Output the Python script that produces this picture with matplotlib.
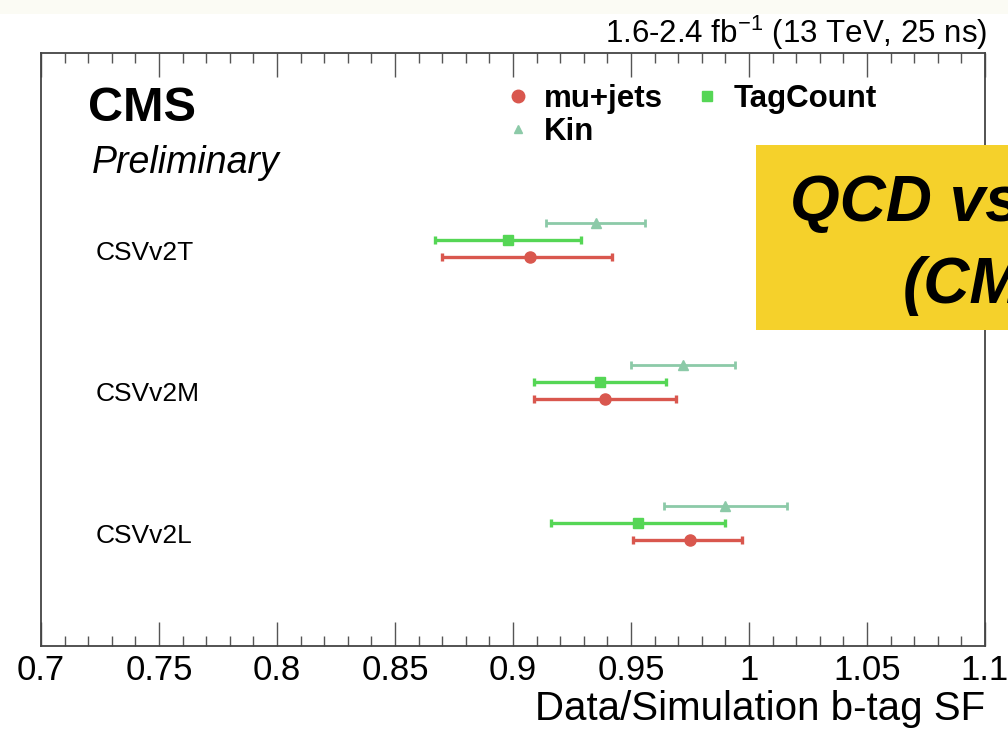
import matplotlib
matplotlib.use('Agg')
import matplotlib.pyplot as plt
from matplotlib.lines import Line2D
from matplotlib.patches import Rectangle
from matplotlib.ticker import MultipleLocator

plt.rcParams['font.family'] = ['Liberation Sans', 'DejaVu Sans']
plt.rcParams['mathtext.default'] = 'regular'

# b-tag working points (bottom to top)
categories = ['CSVv2L', 'CSVv2M', 'CSVv2T']

# scale factors and error bar edges
mu_sf = [0.975, 0.939, 0.907]
mu_lo = [0.951, 0.909, 0.870]
mu_hi = [0.997, 0.969, 0.942]

tag_sf = [0.953, 0.937, 0.898]
tag_lo = [0.916, 0.909, 0.867]
tag_hi = [0.990, 0.965, 0.929]

kin_sf = [0.990, 0.972, 0.935]
kin_lo = [0.964, 0.950, 0.914]
kin_hi = [1.016, 0.994, 0.956]

c_mu = '#d9574e'
c_tag = '#55d655'
c_kin = '#8ccaa8'

fig = plt.figure(figsize=(10.08, 7.32), dpi=100)
ax = fig.add_axes([41 / 1008, 1 - 645.7 / 732, 944 / 1008, 593 / 732])

ypos = list(range(len(categories)))


def draw(sf, lo, hi, off, color, marker, ms, lw):
    y = [p + off for p in ypos]
    xerr = [[s - l for s, l in zip(sf, lo)], [h - s for s, h in zip(sf, hi)]]
    ax.errorbar(sf, y, xerr=xerr, fmt=marker, color=color, ms=ms,
                elinewidth=lw, capsize=3, capthick=lw, zorder=3)


draw(mu_sf, mu_lo, mu_hi, 0.0, c_mu, 'o', 8, 2.4)
draw(tag_sf, tag_lo, tag_hi, 0.118, c_tag, 's', 7.5, 2.4)
draw(kin_sf, kin_lo, kin_hi, 0.237, c_kin, '^', 6.5, 2.0)

for p, name in zip(ypos, categories):
    ax.text(0.7233, p + 0.03, name, fontsize=19, va='center', ha='left')

ax.set_xlim(0.7, 1.1)
ax.set_ylim(-0.747, 3.444)
ax.xaxis.set_major_locator(MultipleLocator(0.05))
ax.xaxis.set_minor_locator(MultipleLocator(0.01))
ax.set_xticks([0.7, 0.75, 0.8, 0.85, 0.9, 0.95, 1.0, 1.05, 1.1])
ax.set_xticklabels(['0.7', '0.75', '0.8', '0.85', '0.9', '0.95', '1', '1.05', '1.1'])
ax.set_yticks([])
ax.tick_params(axis='x', which='both', direction='in', top=True, bottom=True,
               labelsize=25, color='#555555', pad=6)
ax.tick_params(axis='x', which='major', length=17, width=1)
ax.tick_params(axis='x', which='minor', length=7, width=1)
for s in ax.spines.values():
    s.set_color('#444444')
    s.set_linewidth(1.3)

ax.set_xlabel('Data/Simulation b-tag SF', fontsize=29, loc='right', labelpad=2)

handles = [
    Line2D([], [], ls='', marker='o', color=c_mu, ms=9),
    Line2D([], [], ls='', marker='^', color=c_kin, ms=6),
    Line2D([], [], ls='', marker='s', color=c_tag, ms=7.5),
]
ax.legend(handles, ['mu+jets', 'Kin', 'TagCount'], ncol=2, frameon=False,
          prop={'weight': 'bold', 'size': 22.5}, loc='upper left',
          bbox_to_anchor=(505 / 1008, 1 - 84 / 732), bbox_transform=fig.transFigure,
          borderaxespad=0, borderpad=0, handlelength=0.8, handletextpad=0.45,
          columnspacing=1.0, labelspacing=0.1)

fig.text(88 / 1008, 1 - 121 / 732, 'CMS', fontsize=35, weight='bold', va='baseline')
fig.text(92 / 1008, 1 - 173 / 732, 'Preliminary', fontsize=27, style='italic', va='baseline')
fig.text(987 / 1008, 1 - 43 / 732, '1.6-2.4 fb$^{-1}$ (13 TeV, 25 ns)',
         fontsize=22.5, ha='right', va='baseline')

# pale strip at the very top of the slide
fig.add_artist(Rectangle((0, 1 - 14 / 732), 1, 14 / 732, transform=fig.transFigure,
                         facecolor='#fbfbf4', edgecolor='none', zorder=0))

# yellow slide box over the right side
fig.add_artist(Rectangle((756 / 1008, 1 - 330 / 732), 0.3, 185 / 732,
                         transform=fig.transFigure, facecolor='#f5d12b',
                         edgecolor='none', zorder=5))
fig.text(790 / 1008, 1 - 221 / 732, 'QCD vs.', fontsize=46, weight='bold',
         style='italic', va='baseline', zorder=6)
fig.text(903 / 1008, 1 - 303 / 732, '(CMS)', fontsize=46, weight='bold',
         style='italic', va='baseline', zorder=6)

fig.savefig('out.png', dpi=100)
